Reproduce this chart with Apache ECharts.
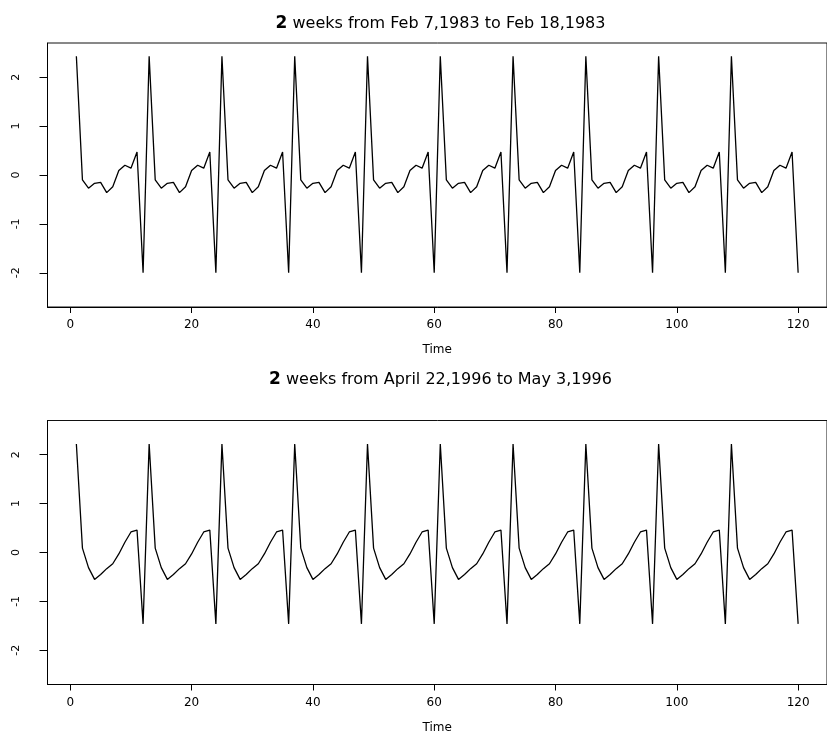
<!DOCTYPE html>
<html>
<head>
<meta charset="utf-8">
<script src="https://cdn.jsdelivr.net/npm/echarts@6/dist/echarts.min.js"></script>
<style>
  html, body { margin: 0; padding: 0; background: #fff; }
  #chart { width: 827px; height: 738px; }
</style>
</head>
<body>
<div id="chart"></div>
<script>
const time = [1,2,3,4,5,6,7,8,9,10,11,12,13,14,15,16,17,18,19,20,21,22,23,24,25,26,27,28,29,30,
31,32,33,34,35,36,37,38,39,40,41,42,43,44,45,46,47,48,49,50,51,52,53,54,55,56,57,58,59,60,
61,62,63,64,65,66,67,68,69,70,71,72,73,74,75,76,77,78,79,80,81,82,83,84,85,86,87,88,89,90,
91,92,93,94,95,96,97,98,99,100,101,102,103,104,105,106,107,108,109,110,111,112,113,114,115,116,117,118,119,120];

const feb1983 = [
2.43,-0.10,-0.27,-0.17,-0.15,-0.36,-0.24,0.09,0.20,0.14,0.47,-2.00,
2.43,-0.10,-0.27,-0.17,-0.15,-0.36,-0.24,0.09,0.20,0.14,0.47,-2.00,
2.43,-0.10,-0.27,-0.17,-0.15,-0.36,-0.24,0.09,0.20,0.14,0.47,-2.00,
2.43,-0.10,-0.27,-0.17,-0.15,-0.36,-0.24,0.09,0.20,0.14,0.47,-2.00,
2.43,-0.10,-0.27,-0.17,-0.15,-0.36,-0.24,0.09,0.20,0.14,0.47,-2.00,
2.43,-0.10,-0.27,-0.17,-0.15,-0.36,-0.24,0.09,0.20,0.14,0.47,-2.00,
2.43,-0.10,-0.27,-0.17,-0.15,-0.36,-0.24,0.09,0.20,0.14,0.47,-2.00,
2.43,-0.10,-0.27,-0.17,-0.15,-0.36,-0.24,0.09,0.20,0.14,0.47,-2.00,
2.43,-0.10,-0.27,-0.17,-0.15,-0.36,-0.24,0.09,0.20,0.14,0.47,-2.00,
2.43,-0.10,-0.27,-0.17,-0.15,-0.36,-0.24,0.09,0.20,0.14,0.47,-2.00];

const apr1996 = [
2.22,0.09,-0.31,-0.55,-0.45,-0.33,-0.23,-0.03,0.21,0.42,0.46,-1.46,
2.22,0.09,-0.31,-0.55,-0.45,-0.33,-0.23,-0.03,0.21,0.42,0.46,-1.46,
2.22,0.09,-0.31,-0.55,-0.45,-0.33,-0.23,-0.03,0.21,0.42,0.46,-1.46,
2.22,0.09,-0.31,-0.55,-0.45,-0.33,-0.23,-0.03,0.21,0.42,0.46,-1.46,
2.22,0.09,-0.31,-0.55,-0.45,-0.33,-0.23,-0.03,0.21,0.42,0.46,-1.46,
2.22,0.09,-0.31,-0.55,-0.45,-0.33,-0.23,-0.03,0.21,0.42,0.46,-1.46,
2.22,0.09,-0.31,-0.55,-0.45,-0.33,-0.23,-0.03,0.21,0.42,0.46,-1.46,
2.22,0.09,-0.31,-0.55,-0.45,-0.33,-0.23,-0.03,0.21,0.42,0.46,-1.46,
2.22,0.09,-0.31,-0.55,-0.45,-0.33,-0.23,-0.03,0.21,0.42,0.46,-1.46,
2.22,0.09,-0.31,-0.55,-0.45,-0.33,-0.23,-0.03,0.21,0.42,0.46,-1.46];

const xTicks = [0, 20, 40, 60, 80, 100, 120];
const yTicks = [-2, -1, 0, 1, 2];
const titles = [
  ['2', ' weeks from Feb 7,1983 to Feb 18,1983'],
  ['2', ' weeks from April 22,1996 to May 3,1996']
];
const xName = 'Time';

const FONT = 'DejaVu Sans';
const chart = echarts.init(document.getElementById('chart'), null, { renderer: 'canvas' });

const gridTops = [43, 420.5];
const gridH = 264;
const gridLeft = 47.5;
const gridW = 780;

function xAxisFor(i) {
  return {
    type: 'value', gridIndex: i, min: -3.76, max: 124.76,
    axisLine: { show: true, onZero: false, lineStyle: { color: '#000', width: 1 } },
    axisTick: { show: true, customValues: xTicks, length: 6, lineStyle: { color: '#000', width: 1 } },
    axisLabel: { customValues: xTicks, color: '#000', fontSize: 12, fontFamily: FONT, margin: 12 },
    splitLine: { show: false },
    name: xName, nameLocation: 'middle', nameGap: 37,
    nameTextStyle: { color: '#000', fontSize: 12, fontFamily: FONT }
  };
}
function yAxisFor(i) {
  return {
    type: 'value', gridIndex: i, min: -2.7, max: 2.7,
    axisLine: { show: true, onZero: false, lineStyle: { color: '#000', width: 1 } },
    axisTick: { show: true, customValues: yTicks, length: 8, lineStyle: { color: '#000', width: 1 } },
    axisLabel: { customValues: yTicks, color: '#000', fontSize: 11, fontFamily: FONT, rotate: 90, margin: 26,
      formatter: v => String(v) },
    splitLine: { show: false }
  };
}

const option = {
  animation: false,
  backgroundColor: '#fff',
  title: titles.map((t, i) => ({
    text: '{b|' + t[0] + '}{n|' + t[1] + '}',
    left: gridLeft + gridW / 2 - 2,
    textAlign: 'center',
    top: i === 0 ? 10 : 366,
    textStyle: {
      rich: {
        b: { fontFamily: FONT, fontSize: 17, fontWeight: 'bold', color: '#000' },
        n: { fontFamily: FONT, fontSize: 16, fontWeight: 'normal', color: '#000' }
      }
    }
  })),
  grid: gridTops.map(t => ({
    left: gridLeft, top: t, width: gridW, height: gridH,
    show: true, borderColor: '#111', borderWidth: 1, backgroundColor: 'transparent'
  })),
  xAxis: [xAxisFor(0), xAxisFor(1)],
  yAxis: [yAxisFor(0), yAxisFor(1)],
  series: [
    {
      type: 'line', xAxisIndex: 0, yAxisIndex: 0, showSymbol: false,
      lineStyle: { color: '#000', width: 1.3 }, itemStyle: { color: '#000' },
      data: time.map((t, i) => [t, feb1983[i]])
    },
    {
      type: 'line', xAxisIndex: 1, yAxisIndex: 1, showSymbol: false,
      lineStyle: { color: '#000', width: 1.3 }, itemStyle: { color: '#000' },
      data: time.map((t, i) => [t, apr1996[i]])
    }
  ]
};
chart.setOption(option);
</script>
</body>
</html>
